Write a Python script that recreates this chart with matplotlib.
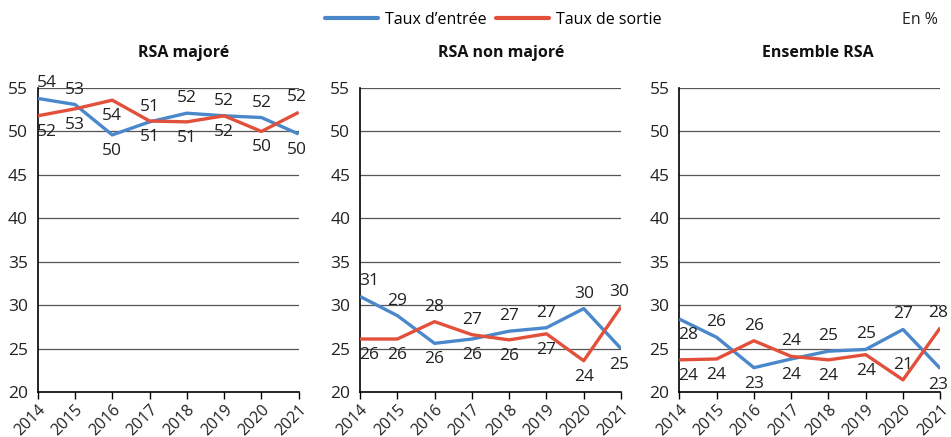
import matplotlib
matplotlib.use('Agg')
import matplotlib.pyplot as plt
import matplotlib.transforms as mtransforms

plt.rcParams['font.family'] = ['Open Sans', 'DejaVu Sans']

years = [2014, 2015, 2016, 2017, 2018, 2019, 2020, 2021]
titles = ['RSA majoré', 'RSA non majoré', 'Ensemble RSA']

# taux d'entrée (bleu) et taux de sortie (rouge), en %
entree_majore = [53.8, 53.1, 49.6, 51.1, 52.1, 51.8, 51.6, 49.7]
sortie_majore = [51.8, 52.6, 53.6, 51.2, 51.1, 51.8, 50.0, 52.2]
entree_non_majore = [31.0, 28.8, 25.6, 26.1, 27.0, 27.4, 29.6, 25.0]
sortie_non_majore = [26.1, 26.1, 28.1, 26.6, 26.0, 26.7, 23.6, 29.8]
entree_ensemble = [28.4, 26.3, 22.8, 23.8, 24.7, 24.9, 27.2, 22.7]
sortie_ensemble = [23.7, 23.8, 25.9, 24.1, 23.7, 24.3, 21.4, 27.4]

# labels as printed in the chart
lab_entree = [[54, 53, 50, 51, 52, 52, 52, 50],
              [31, 29, 26, 26, 27, 27, 30, 25],
              [28, 26, 23, 24, 25, 25, 27, 23]]
lab_sortie = [[52, 53, 54, 51, 51, 52, 50, 52],
              [26, 26, 28, 27, 26, 27, 24, 30],
              [24, 24, 26, 24, 24, 24, 21, 28]]

# placement of each label: a = above point, b = below point
pos_entree = [['a', 'a', 'b', 'a', 'a', 'a', 'a', 'b'],
              ['a', 'a', 'b', 'b', 'a', 'a', 'a', 'b'],
              ['b', 'a', 'b', 'b', 'a', 'a', 'a', 'b']]
pos_sortie = [['b', 'b', 'b', 'b', 'b', 'b', 'b', 'a'],
              ['b', 'b', 'a', 'a', 'b', 'b', 'b', 'a'],
              ['b', 'b', 'a', 'a', 'b', 'b', 'a', 'a']]

entree = [entree_majore, entree_non_majore, entree_ensemble]
sortie = [sortie_majore, sortie_non_majore, sortie_ensemble]

blue = '#4A88CB'
red = '#E2503B'
fs = 12.5
fs_small = 11.5

fig = plt.figure(figsize=(9.51, 4.37), dpi=100)

lefts = [37.7, 360, 679.3]
width = 261
bottom = 45
height = 304
title_x = [184, 501, 818]

def add_labels(ax, vals, labs, pos):
    for i, (v, l, p) in enumerate(zip(vals, labs, pos)):
        dx = 0
        if i == 0:
            dx = 9
        elif i == len(vals) - 1:
            dx = -2
        dy = 15 if p == 'a' else -16
        ax.annotate(str(l), (years[i], v), xytext=(dx * 0.72, dy * 0.72),
                    textcoords='offset points', ha='center', va='center',
                    fontsize=fs, color='#222222', clip_on=False)

shift = mtransforms.ScaledTranslation(5 / 100, 0, fig.dpi_scale_trans)

for k in range(3):
    ax = fig.add_axes([lefts[k] / 951, bottom / 437, width / 951, height / 437])
    for yv in range(25, 60, 5):
        ax.axhline(yv, color='#555555', lw=0.9, zorder=1)
    ax.plot(years, entree[k], color=blue, lw=2.4, zorder=3, solid_capstyle='butt')
    ax.plot(years, sortie[k], color=red, lw=2.4, zorder=3, solid_capstyle='butt')
    add_labels(ax, entree[k], lab_entree[k], pos_entree[k])
    add_labels(ax, sortie[k], lab_sortie[k], pos_sortie[k])
    ax.set_xlim(2014, 2021)
    ax.set_ylim(20, 55)
    ax.set_yticks(range(20, 60, 5))
    ax.set_xticks(years)
    ax.set_xticklabels([str(y) for y in years], rotation=45, ha='right',
                       rotation_mode='anchor', fontsize=11.5, color='#222222')
    for lab in ax.get_xticklabels():
        lab.set_transform(lab.get_transform() + shift)
    ax.tick_params(axis='y', length=0, pad=7, labelsize=fs, labelcolor='#222222')
    ax.tick_params(axis='x', length=5, width=1, pad=2)
    ax.spines['top'].set_visible(False)
    ax.spines['right'].set_visible(False)
    ax.spines['left'].set_linewidth(1.2)
    ax.spines['bottom'].set_linewidth(1.2)
    fig.text(title_x[k] / 951, 1 - 53 / 437, titles[k], ha='center', va='center',
             fontsize=fs_small, fontweight='bold', color='#111111')

h1, = plt.plot([], [], color=blue, lw=3, solid_capstyle='round')
h2, = plt.plot([], [], color=red, lw=3, solid_capstyle='round')
fig.legend([h1, h2], ["Taux d\u2019entrée", 'Taux de sortie'], loc='center left',
           bbox_to_anchor=(325 / 951, 1 - 20 / 437), ncol=2, frameon=False,
           fontsize=fs_small, handlelength=3.3, handletextpad=0.45, columnspacing=0.6,
           borderaxespad=0, borderpad=0)
fig.text(938 / 951, 1 - 20 / 437, 'En %', ha='right', va='center', fontsize=fs_small,
         color='#222222')

fig.savefig('out.png', dpi=100)
